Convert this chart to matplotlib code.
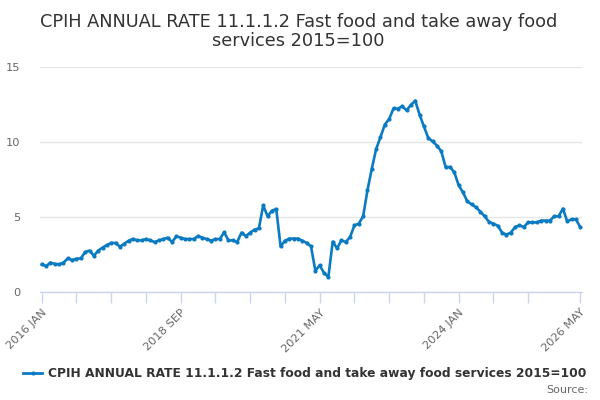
import matplotlib
matplotlib.use("Agg")
import matplotlib.pyplot as plt
from matplotlib.lines import Line2D

title = "CPIH ANNUAL RATE 11.1.1.2 Fast food and take away food\nservices 2015=100"
series_name = "CPIH ANNUAL RATE 11.1.1.2 Fast food and take away food services 2015=100"

# Monthly values, 2016 JAN .. 2026 MAY
values = [
    1.84, 1.73, 1.96, 1.87, 1.84, 1.96, 2.24, 2.13, 2.22, 2.24,
    2.67, 2.76, 2.42, 2.76, 2.96, 3.13, 3.27, 3.27, 3.02, 3.22,
    3.42, 3.53, 3.44, 3.44, 3.53, 3.44, 3.33, 3.44, 3.53, 3.62,
    3.33, 3.71, 3.62, 3.53, 3.53, 3.53, 3.73, 3.62, 3.53, 3.42,
    3.53, 3.53, 3.98, 3.44, 3.44, 3.33, 3.96, 3.73, 3.96, 4.16,
    4.24, 5.78, 5.04, 5.42, 5.53, 3.04, 3.42, 3.56, 3.56, 3.56,
    3.42, 3.27, 3.04, 1.42, 1.78, 1.27, 1.00, 3.36, 2.91, 3.44,
    3.33, 3.67, 4.44, 4.56, 5.04, 6.78, 8.22, 9.53, 10.33, 11.16,
    11.53, 12.24, 12.22, 12.38, 12.11, 12.47, 12.76, 11.82, 11.04, 10.27,
    10.04, 9.76, 9.38, 8.33, 8.33, 7.98, 7.11, 6.64, 6.04, 5.84,
    5.64, 5.36, 5.04, 4.67, 4.56, 4.42, 3.96, 3.82, 3.96, 4.33,
    4.44, 4.33, 4.64, 4.64, 4.64, 4.76, 4.76, 4.76, 5.04, 5.04,
    5.56, 4.71, 4.84, 4.84, 4.33,
]
tick_positions = [0, 8, 16, 24, 32, 40, 48, 56, 64, 72, 80, 88, 96, 104, 112, 124]
tick_labels = ["2016 JAN", "", "", "", "2018 SEP", "", "", "", "2021 MAY", "", "", "",
               "2024 JAN", "", "", "2026 MAY"]
y_ticks = [0, 5, 10, 15]

line_color = "#0a7bc2"
fig = plt.figure(figsize=(6, 4), dpi=100)
ax = fig.add_axes([40 / 600, 1 - 292 / 400, 542 / 600, 225 / 400])

x = list(range(len(values)))
ax.plot(x, values, color=line_color, linewidth=1.9, marker="o", markersize=3.0,
        markeredgewidth=0, zorder=3)

ax.set_xlim(-0.4, len(values) - 1 + 0.4)
ax.set_ylim(0, 15)
ax.set_yticks(y_ticks)
ax.set_yticklabels([str(v) for v in y_ticks])
ax.set_xticks(tick_positions)
ax.set_xticklabels(tick_labels, rotation=45, ha="right", va="top",
                   rotation_mode="anchor")

for s in ["top", "right", "left"]:
    ax.spines[s].set_visible(False)
ax.spines["bottom"].set_color("#ccd6eb")
ax.spines["bottom"].set_linewidth(1)
ax.grid(axis="y", color="#e6e6e6", linewidth=1)
ax.set_axisbelow(True)
ax.tick_params(axis="x", length=8, color="#ccd6eb", width=1, labelsize=8.2,
               labelcolor="#666666", pad=3)
ax.tick_params(axis="y", length=0, labelsize=8.2, labelcolor="#666666", pad=14)

fig.text(0.497, 0.968, title, ha="center", va="top", fontsize=12.8, color="#333333",
         linespacing=1.1)

handle = Line2D([0], [0], color=line_color, linewidth=2, marker="o", markersize=3.0,
                markeredgewidth=0)
fig.legend([handle], [series_name], loc="center", bbox_to_anchor=(0.508, 1 - 374 / 400),
           frameon=False, prop={"size": 8.8, "weight": "bold"}, labelcolor="#333333",
           handlelength=1.5, handletextpad=0.5)
fig.text(588 / 600, 1 - 390 / 400, "Source:", ha="right", va="center", fontsize=8,
         color="#666666")

fig.savefig("out.png", dpi=100)
